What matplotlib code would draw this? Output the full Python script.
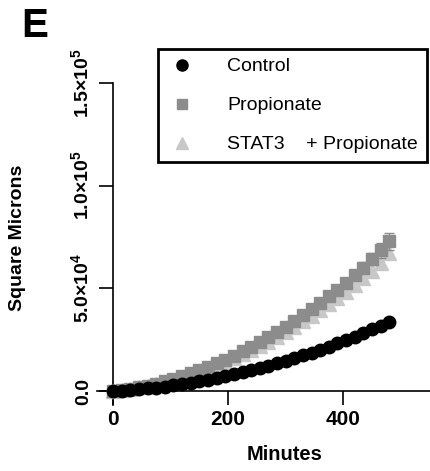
import matplotlib
matplotlib.use("Agg")
import matplotlib.pyplot as plt
from matplotlib.lines import Line2D

plt.rcParams['font.family'] = ['Liberation Sans', 'DejaVu Sans']
plt.rcParams['mathtext.fontset'] = 'custom'
plt.rcParams['mathtext.rm'] = 'Liberation Sans'
plt.rcParams['mathtext.bf'] = 'Liberation Sans:bold'

# Dados (minutos, 1 ponto a cada 15 min)
minutos = [0, 15, 30, 45, 60, 75, 90, 105, 120, 135, 150, 165, 180, 195, 210, 225,
           240, 255, 270, 285, 300, 315, 330, 345, 360, 375, 390, 405, 420, 435, 450, 465, 480]

controle = [0, 230, 520, 860, 1250, 1690, 2190, 2740, 3340, 4000, 4710, 5470, 6280,
            7150, 8070, 9040, 10070, 11150, 12280, 13460, 14700, 15990, 17330, 18730,
            20180, 21680, 23240, 24840, 26500, 28210, 29980, 31800, 33700]

propionato = [0, 510, 1120, 1850, 2690, 3640, 4710, 5880, 7160, 8560, 10070, 11690,
              13420, 15260, 17220, 19280, 21460, 23740, 26140, 28650, 31280, 34010,
              36850, 39810, 42880, 46060, 49350, 52750, 56300, 60000, 64200, 68500, 73000]

propionato_sem = [0, 50, 80, 110, 150, 190, 230, 270, 320, 370, 420, 480, 540, 600,
                  670, 740, 820, 900, 990, 1080, 1180, 1290, 1400, 1520, 1650, 1790,
                  1940, 2100, 2300, 2600, 2900, 3500, 4200]

stat3_prop = [0, 480, 1060, 1740, 2520, 3400, 4380, 5470, 6650, 7930, 9330, 10820,
              12410, 14100, 15900, 17800, 19800, 21900, 24100, 26400, 28800, 31300,
              33900, 36600, 39400, 42300, 45300, 48400, 51600, 54900, 58400, 62500, 67000]

y_ticks = [0, 50000, 100000, 150000]
y_labels = ['0.0', r'$\mathbf{5.0{\times}10^{4}}$', r'$\mathbf{1.0{\times}10^{5}}$',
            r'$\mathbf{1.5{\times}10^{5}}$']
x_ticks = [0, 200, 400]

cinza = '#8c8c8c'
cinza_claro = '#c8c8c8'

fig = plt.figure(figsize=(4.31, 4.71), dpi=100)
ax = fig.add_axes([97 / 431, 66 / 471, 333 / 431, 322 / 471])

ax.plot(minutos, stat3_prop, linestyle='none', marker='^', markersize=10,
        color=cinza_claro, zorder=3)
ax.errorbar(minutos, propionato, yerr=propionato_sem, linestyle='none', marker='s',
            markersize=8, color=cinza, ecolor=cinza, elinewidth=1,
            capsize=3.5, zorder=4)
ax.plot(minutos, controle, linestyle='none', marker='o', markersize=9,
        color='black', zorder=5)

ax.set_xlim(-28, 551)
ax.set_ylim(-6800, 150000)
ax.spines['left'].set_position(('data', 0))
ax.spines['bottom'].set_position(('data', 0))
ax.spines['right'].set_visible(False)
ax.spines['top'].set_visible(False)
for s in ['left', 'bottom']:
    ax.spines[s].set_linewidth(1.2)

ax.set_xticks(x_ticks)
ax.set_xticklabels([str(v) for v in x_ticks], fontsize=15, fontweight='bold')
ax.set_yticks(y_ticks)
ax.set_yticklabels(y_labels, fontsize=14, fontweight='bold', rotation=90, va='center')
ax.tick_params(axis='both', direction='out', length=10, width=1.2)
ax.tick_params(axis='x', pad=4)
ax.tick_params(axis='y', pad=5)

fig.text(285 / 431, 1 - 455 / 471, 'Minutes', fontsize=14.5, fontweight='bold',
         ha='center', va='center')
fig.text(18 / 431, 1 - 238 / 471, 'Square Microns', fontsize=14, fontweight='bold',
         rotation=90, ha='center', va='center')
fig.text(21 / 431, 1 - 26 / 471, 'E', fontsize=29, fontweight='bold',
         ha='left', va='center')

# Legenda montada a mao, na ordem do original
handles = [
    Line2D([], [], linestyle='none', marker='o', markersize=8, color='black'),
    Line2D([], [], linestyle='none', marker='s', markersize=7.5, color=cinza),
    Line2D([], [], linestyle='none', marker='^', markersize=8, color=cinza_claro),
]
labels = ['Control', 'Propionate', 'STAT3    + Propionate']
leg = ax.legend(handles, labels,
                loc='upper right', bbox_to_anchor=(427 / 431, 1 - 49 / 471),
                bbox_transform=fig.transFigure, borderaxespad=0, fontsize=14,
                frameon=True, fancybox=False, edgecolor='black', framealpha=1,
                labelspacing=1.1, borderpad=0.45, handlelength=1.5,
                handletextpad=1.6, numpoints=1)
leg.get_frame().set_linewidth(2)

fig.savefig('out.png', dpi=100)
